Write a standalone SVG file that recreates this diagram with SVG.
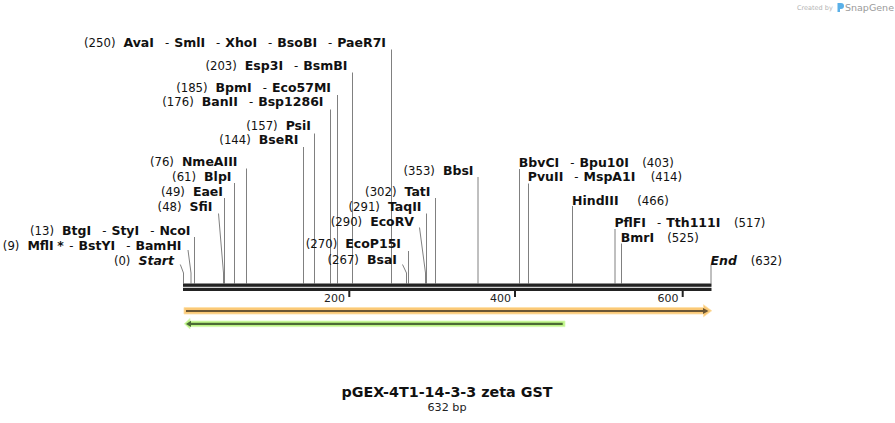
<svg xmlns="http://www.w3.org/2000/svg" width="895" height="423" viewBox="0 0 895 423">
<style>
text{font-family:"DejaVu Sans","Liberation Sans",sans-serif;font-size:11.7px;fill:#111}
.b{font-weight:bold;font-size:12.5px}
.i{font-weight:bold;font-style:italic;font-size:12.5px}
.L{text-anchor:end}
.cut{stroke:#808080;stroke-width:1;fill:none}
.tk{font-size:11px;fill:#222;text-anchor:end}
</style>
<rect width="895" height="423" fill="#fff"/>
<g id="watermark">
<text x="797" y="10" style="font-size:6.5px;fill:#b4b4b4">Created by</text>
<path d="M837.5,3 h3.5 a3,3 0 0 1 0,6 h-1 v3 h-2.5z" fill="#5ab0e8"/>
<text x="845" y="11" style="font-size:9.5px;fill:#9a9a9a">SnapGene</text>
</g>
<g id="connectors">
<polyline class="cut" points="391.5,49.5 391.5,283.5"/>
<polyline class="cut" points="352.5,72.5 352.5,283.5"/>
<polyline class="cut" points="337.5,95 337.5,283.5"/>
<polyline class="cut" points="330.5,109.5 330.5,283.5"/>
<polyline class="cut" points="314.5,133.5 314.5,283.5"/>
<polyline class="cut" points="303.5,147 303.5,283.5"/>
<polyline class="cut" points="246.5,168.5 246.5,283.5"/>
<polyline class="cut" points="234.5,183 234.5,283.5"/>
<polyline class="cut" points="224.5,198 224.5,283.5"/>
<polyline class="cut" points="218.5,213.5 223.5,273 223.5,283.5"/>
<polyline class="cut" points="194.5,237 194.5,283.5"/>
<polyline class="cut" points="188,250 191,273 191,283.5"/>
<polyline class="cut" points="180.3,264.5 183.5,273 183.5,283.5"/>
<polyline class="cut" points="478,177 478,283.5"/>
<polyline class="cut" points="435.5,198 435.5,283.5"/>
<polyline class="cut" points="426.5,213.5 426.5,283.5"/>
<polyline class="cut" points="419.5,227.5 425.5,273 425.5,283.5"/>
<polyline class="cut" points="408.5,251 408.5,283.5"/>
<polyline class="cut" points="402.5,264.5 406.5,273 406.5,283.5"/>
<polyline class="cut" points="519.5,169 519.5,283.5"/>
<polyline class="cut" points="528.5,183.5 528.5,283.5"/>
<polyline class="cut" points="572.5,206 572.5,283.5"/>
<polyline class="cut" points="615,229 615,283.5"/>
<polyline class="cut" points="621.5,243.5 621.5,283.5"/>
<polyline class="cut" points="711,265 711,283.5"/>
</g>
<g id="sequence">
<rect x="183" y="283.5" width="528.5" height="3.3" fill="#222"/>
<rect x="183" y="287.8" width="528.5" height="3.2" fill="#222"/>
<rect x="348.3" y="290" width="2" height="7" fill="#222"/>
<rect x="514" y="290" width="2" height="7" fill="#222"/>
<rect x="681.7" y="290" width="2" height="7" fill="#222"/>
<text class="tk" x="345" y="301.5">200</text>
<text class="tk" x="511" y="301.5">400</text>
<text class="tk" x="678.5" y="301.5">600</text>
</g>
<g id="feature-forward">
<path d="M184,307.5 H703.5 V304.7 L711.7,310.8 L703.5,316.8 V314 H184 Z" fill="#fbc977" stroke="#fde0a8" stroke-width="0.8"/>
<rect x="186" y="310" width="518" height="2" fill="#6b5634"/>
<path d="M703,308 L708.5,311 L703,314 Z" fill="#6b5634"/>
</g>
<g id="feature-reverse">
<path d="M565,321 H190 V318.5 L184.3,323.8 L190,329 V326.7 H565 Z" fill="#bdf585" stroke="#d8fab8" stroke-width="0.8"/>
<rect x="190" y="322.8" width="372.7" height="2.2" fill="#4c6b36"/>
<path d="M191,320.8 L186,323.9 L191,327 Z" fill="#4c6b36"/>
</g>
<g id="site-250"><text class="L" x="386" y="46.5">(250)<tspan class="b" dx="8">AvaI</tspan><tspan dx="11">-</tspan><tspan class="b" dx="5">SmlI</tspan><tspan dx="11">-</tspan><tspan class="b" dx="5">XhoI</tspan><tspan dx="11">-</tspan><tspan class="b" dx="5">BsoBI</tspan><tspan dx="11">-</tspan><tspan class="b" dx="5">PaeR7I</tspan></text></g>
<g id="site-203"><text class="L" x="347.5" y="69.5">(203)<tspan class="b" dx="8">Esp3I</tspan><tspan dx="11">-</tspan><tspan class="b" dx="5">BsmBI</tspan></text></g>
<g id="site-185"><text class="L" x="331" y="91.5">(185)<tspan class="b" dx="8">BpmI</tspan><tspan dx="11">-</tspan><tspan class="b" dx="5">Eco57MI</tspan></text></g>
<g id="site-176"><text class="L" x="323.5" y="106">(176)<tspan class="b" dx="8">BanII</tspan><tspan dx="11">-</tspan><tspan class="b" dx="5">Bsp1286I</tspan></text></g>
<g id="site-157"><text class="L" x="311" y="129.5">(157)<tspan class="b" dx="8">PsiI</tspan></text></g>
<g id="site-144"><text class="L" x="298.5" y="144">(144)<tspan class="b" dx="8">BseRI</tspan></text></g>
<g id="site-76"><text class="L" x="237.5" y="165.5">(76)<tspan class="b" dx="8">NmeAIII</tspan></text></g>
<g id="site-61"><text class="L" x="231.5" y="180.5">(61)<tspan class="b" dx="8">BlpI</tspan></text></g>
<g id="site-49"><text class="L" x="223" y="196">(49)<tspan class="b" dx="8">EaeI</tspan></text></g>
<g id="site-48"><text class="L" x="212.5" y="211">(48)<tspan class="b" dx="8">SfiI</tspan></text></g>
<g id="site-13"><text class="L" x="190.5" y="234.5">(13)<tspan class="b" dx="8">BtgI</tspan><tspan dx="11">-</tspan><tspan class="b" dx="5">StyI</tspan><tspan dx="11">-</tspan><tspan class="b" dx="5">NcoI</tspan></text></g>
<g id="site-9"><text class="L" x="181.5" y="249.5">(9)<tspan class="b" dx="8">MflI</tspan><tspan class="b" dx="3.5">*</tspan><tspan dx="5.5">-</tspan><tspan class="b" dx="5">BstYI</tspan><tspan dx="11">-</tspan><tspan class="b" dx="5">BamHI</tspan></text></g>
<g id="site-0"><text class="L" x="174" y="264.5">(0)<tspan class="i" dx="8">Start</tspan></text></g>
<g id="site-353"><text class="L" x="473.5" y="174.5">(353)<tspan class="b" dx="8">BbsI</tspan></text></g>
<g id="site-302"><text class="L" x="430.5" y="196">(302)<tspan class="b" dx="8">TatI</tspan></text></g>
<g id="site-291"><text class="L" x="421.5" y="211">(291)<tspan class="b" dx="8">TaqII</tspan></text></g>
<g id="site-290"><text class="L" x="414" y="226">(290)<tspan class="b" dx="8">EcoRV</tspan></text></g>
<g id="site-270"><text class="L" x="401" y="248">(270)<tspan class="b" dx="8">EcoP15I</tspan></text></g>
<g id="site-267"><text class="L" x="397" y="263.5">(267)<tspan class="b" dx="8">BsaI</tspan></text></g>
<g id="site-403"><text y="166.5"><tspan class="b" x="518.8">BbvCI</tspan><tspan dx="11">-</tspan><tspan class="b" dx="5">Bpu10I</tspan><tspan x="642.3">(403)</tspan></text></g>
<g id="site-414"><text y="181"><tspan class="b" x="527.8">PvuII</tspan><tspan dx="11">-</tspan><tspan class="b" dx="5">MspA1I</tspan><tspan x="650.7">(414)</tspan></text></g>
<g id="site-466"><text y="204.5"><tspan class="b" x="572">HindIII</tspan><tspan x="637.3">(466)</tspan></text></g>
<g id="site-517"><text y="227"><tspan class="b" x="614.4">PflFI</tspan><tspan dx="11">-</tspan><tspan class="b" dx="5">Tth111I</tspan><tspan x="734">(517)</tspan></text></g>
<g id="site-525"><text y="241.5"><tspan class="b" x="620.7">BmrI</tspan><tspan x="667.3">(525)</tspan></text></g>
<g id="site-632"><text y="264.5"><tspan class="i" x="710.5">End</tspan><tspan x="750.7">(632)</tspan></text></g>
<g id="title">
<text x="447" y="397" style="font-size:14.3px;font-weight:bold;text-anchor:middle">pGEX-4T1-14-3-3 zeta GST</text>
<text x="447" y="411" style="font-size:11.2px;text-anchor:middle;fill:#222">632 bp</text>
</g>
</svg>
